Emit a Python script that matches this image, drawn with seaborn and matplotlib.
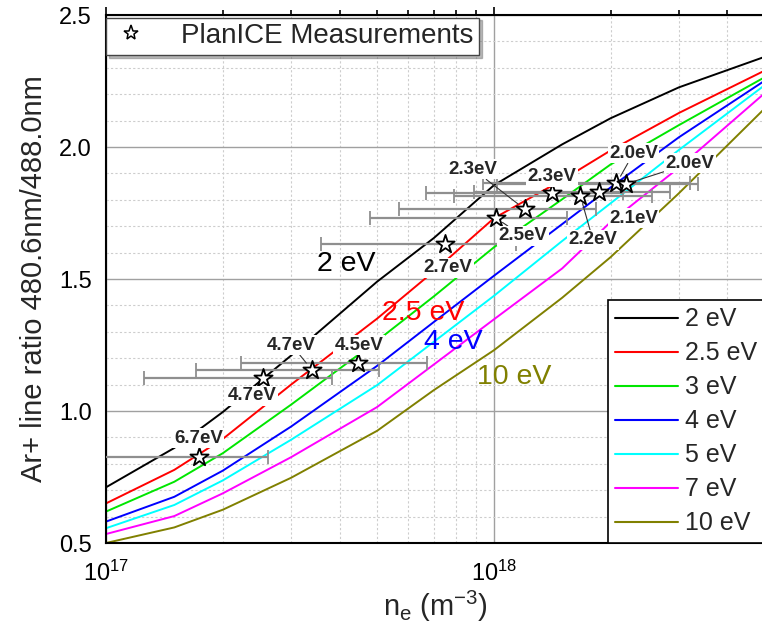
import numpy as np
import pandas as pd
import matplotlib
matplotlib.use("Agg")
import matplotlib.pyplot as plt
from matplotlib.lines import Line2D
from matplotlib.ticker import MultipleLocator, LogLocator, NullFormatter, FixedLocator, FixedFormatter
import seaborn as sns

# ---- model curves: line ratio vs electron density for several Te ----
ne_grid = [1e17, 1.5e17, 2e17, 3e17, 5e17, 7e17, 1e18, 1.5e18, 2e18, 3e18, 5e18]
te_labels = ["2 eV", "2.5 eV", "3 eV", "4 eV", "5 eV", "7 eV", "10 eV"]
ratio_2eV = [0.711, 0.860, 0.996, 1.210, 1.490, 1.655, 1.855, 2.010, 2.109, 2.226, 2.342]
ratio_2p5eV = [0.650, 0.777, 0.894, 1.100, 1.350, 1.529, 1.730, 1.875, 1.987, 2.129, 2.290]
ratio_3eV = [0.619, 0.732, 0.840, 1.024, 1.266, 1.434, 1.620, 1.802, 1.934, 2.083, 2.265]
ratio_4eV = [0.581, 0.675, 0.774, 0.941, 1.171, 1.337, 1.512, 1.708, 1.847, 2.037, 2.252]
ratio_5eV = [0.556, 0.644, 0.737, 0.891, 1.098, 1.262, 1.436, 1.644, 1.787, 1.989, 2.235]
ratio_7eV = [0.534, 0.602, 0.688, 0.825, 1.015, 1.176, 1.347, 1.540, 1.716, 1.922, 2.205]
ratio_10eV = [0.500, 0.559, 0.626, 0.747, 0.925, 1.079, 1.230, 1.429, 1.583, 1.825, 2.147]
curve_colors = ["#000000", "#ff0000", "#00e600", "#0000ff", "#00ffff", "#ff00ff", "#808000"]

# ---- PlanICE measurements ----
meas_ne = [1.74e17, 2.54e17, 3.39e17, 4.47e17, 7.48e17, 1.01e18,
           1.20e18, 1.41e18, 1.67e18, 1.87e18, 2.07e18, 2.19e18]
meas_ratio = [0.827, 1.124, 1.157, 1.183, 1.633, 1.732,
              1.765, 1.825, 1.816, 1.831, 1.862, 1.860]
meas_ne_err = [0.88e17, 1.29e17, 1.68e17, 2.24e17, 3.9e17, 5.3e17,
               6.3e17, 7.4e17, 8.8e17, 9.8e17, 1.13e18, 1.17e18]
meas_te = ["6.7eV", "4.7eV", "4.7eV", "4.5eV", "2.7eV", "2.5eV",
           "2.3eV", "2.3eV", "2.2eV", "2.1eV", "2.0eV", "2.0eV"]
# label anchor (ne, ratio) for each measurement tag, and whether a leader is drawn
tag_ne = [1.73e17, 2.375e17, 3.01e17, 4.50e17, 7.62e17, 1.186e18,
          8.85e17, 1.41e18, 1.80e18, 2.29e18, 2.29e18, 3.2e18]
tag_ratio = [0.897, 1.058, 1.250, 1.250, 1.543, 1.663,
             1.915, 1.888, 1.648, 1.730, 1.976, 1.938]
tag_leader = [False, False, True, False, False, True,
              True, False, True, False, True, True]

# ---- curve labels drawn on the plot ----
curve_tag_text = ["2 eV", "2.5 eV", "4 eV", "10 eV"]
curve_tag_ne = [4.16e17, 6.56e17, 7.85e17, 1.13e18]
curve_tag_ratio = [1.557, 1.371, 1.262, 1.130]
curve_tag_color = ["#000000", "#ff0000", "#0000ff", "#808000"]

sns.set_theme(style="white")
plt.rcParams["font.family"] = ["Liberation Sans", "DejaVu Sans"]
plt.rcParams["mathtext.fontset"] = "custom"
plt.rcParams["mathtext.rm"] = "Liberation Sans"
plt.rcParams["mathtext.it"] = "Liberation Sans:italic"
plt.rcParams["mathtext.bf"] = "Liberation Sans:bold"

fig = plt.figure(figsize=(7.62, 6.35), dpi=100)
ax = fig.add_axes([106 / 762, 92 / 635, (765 - 106) / 762, (543 - 15) / 635])
ax.set_xscale("log")

all_ratios = [ratio_2eV, ratio_2p5eV, ratio_3eV, ratio_4eV, ratio_5eV, ratio_7eV, ratio_10eV]
curves = pd.DataFrame({
    "ne": np.tile(ne_grid, len(te_labels)),
    "ratio": np.concatenate(all_ratios),
    "Te": np.repeat(te_labels, len(ne_grid)),
})
palette = dict(zip(te_labels, curve_colors))
sns.lineplot(data=curves, x="ne", y="ratio", hue="Te", hue_order=te_labels,
             palette=palette, estimator=None, sort=False, lw=1.4,
             legend=False, ax=ax, zorder=2)

ax.errorbar(meas_ne, meas_ratio, xerr=meas_ne_err, fmt="none",
            ecolor="#8f8f8f", elinewidth=1.6, capsize=5, capthick=1.3, zorder=3)
sns.scatterplot(x=meas_ne, y=meas_ratio, marker="*", s=190, color="white",
                edgecolor="black", linewidth=1.3, ax=ax, zorder=4, legend=False)

tag_box = dict(boxstyle="square,pad=0.08", fc="white", ec="none")
for i, txt in enumerate(meas_te):
    if tag_leader[i]:
        ax.annotate(txt, xy=(meas_ne[i], meas_ratio[i]),
                    xytext=(tag_ne[i], tag_ratio[i]),
                    ha="center", va="center", fontsize=13.5, fontweight="bold",
                    bbox=tag_box, zorder=6,
                    arrowprops=dict(arrowstyle="-", color="#333333", lw=0.8,
                                    shrinkA=0, shrinkB=6))
    else:
        ax.text(tag_ne[i], tag_ratio[i], txt, ha="center", va="center",
                fontsize=13.5, fontweight="bold", bbox=tag_box, zorder=6)

for txt, x, y, c in zip(curve_tag_text, curve_tag_ne, curve_tag_ratio, curve_tag_color):
    ax.text(x, y, txt, color=c, fontsize=20.5, ha="center", va="center", zorder=5)

ax.set_xlim(1e17, 5e18)
ax.set_ylim(0.5, 2.5)
ax.xaxis.set_major_locator(FixedLocator([1e17, 1e18]))
ax.xaxis.set_major_formatter(FixedFormatter([r"$10^{17}$", r"$10^{18}$"]))
ax.xaxis.set_minor_locator(LogLocator(base=10, subs=np.arange(2, 10)))
ax.xaxis.set_minor_formatter(NullFormatter())
ax.yaxis.set_major_locator(MultipleLocator(0.5))
ax.yaxis.set_minor_locator(MultipleLocator(0.1))
ax.yaxis.set_major_formatter(matplotlib.ticker.FormatStrFormatter("%.1f"))

ax.grid(which="major", color="#a0a0a0", lw=1.0, ls="-", zorder=0)
ax.grid(which="minor", color="#cdcdcd", lw=0.8, ls=(0, (2, 2)), zorder=0)
ax.set_axisbelow(True)

for sp in ax.spines.values():
    sp.set_color("black")
    sp.set_linewidth(1.5)
ax.tick_params(which="both", direction="out", top=True, right=True,
               color="black", width=1.2, labelsize=17, colors="black")
ax.tick_params(which="major", length=6, pad=4)
ax.tick_params(which="minor", length=3.5)
ax.tick_params(axis="x", which="major", pad=7)

ax.set_xlabel(r"n$_\mathregular{e}$ (m$^\mathregular{-3}$)", fontsize=21, labelpad=2)
ax.set_ylabel("Ar+ line ratio 480.6nm/488.0nm", fontsize=21, labelpad=8)

meas_handle = Line2D([], [], ls="none", marker="*", ms=11, mfc="white",
                     mec="black", mew=1.1)
leg1 = ax.legend([meas_handle], ["PlanICE Measurements"], loc="upper left",
                 bbox_to_anchor=(0.0, 0.995), fontsize=20, frameon=True,
                 fancybox=False, edgecolor="#444444", framealpha=1,
                 borderpad=0.2, handletextpad=1.1, handlelength=1.4,
                 borderaxespad=0, shadow={"color": "#777777"})
leg1.get_frame().set_linewidth(1.0)
ax.add_artist(leg1)

curve_handles = [Line2D([], [], color=c, lw=1.5) for c in curve_colors]
leg2 = ax.legend(curve_handles, te_labels, loc="lower right",
                 bbox_to_anchor=(1.0, 0.0), fontsize=18, frameon=True,
                 fancybox=False, edgecolor="black", framealpha=1,
                 borderpad=0.3, labelspacing=0.4, handlelength=2.5,
                 handletextpad=0.3, borderaxespad=0)
leg2.get_frame().set_linewidth(1.2)

fig.savefig("out.png", dpi=100)
